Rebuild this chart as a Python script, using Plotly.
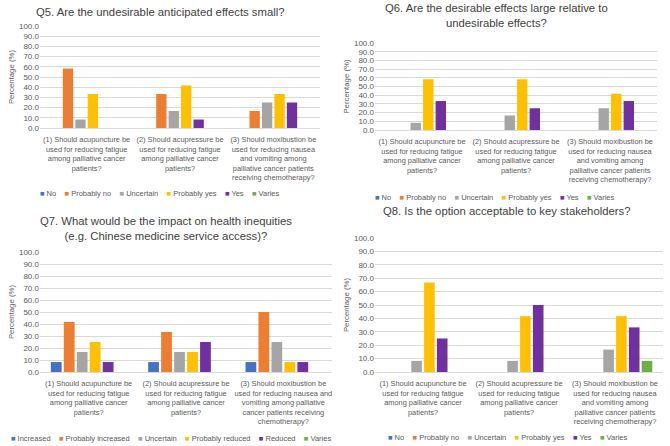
import plotly.graph_objects as go

# ---------------- data ----------------
cats = [
    "(1) Should acupuncture be<br>used for reducing fatigue<br>among palliative cancer<br>patients?",
    "(2) Should acupressure be<br>used for reducing fatigue<br>among palliative cancer<br>patients?",
    "(3) Should moxibustion be<br>used for reducing nausea<br>and vomiting among<br>palliative cancer patients<br>receiving chemotherapy?",
]
cats_q7 = [
    cats[0],
    cats[1],
    "(3) Should moxibustion be<br>used for reducing nausea and<br>vomiting among palliative<br>cancer patients receiving<br>chemotherapy?",
]

series_yes_no = ["No", "Probably no", "Uncertain", "Probably yes", "Yes", "Varies"]
series_q7 = ["Increased", "Probably increased", "Uncertain", "Probably reduced", "Reduced", "Varies"]

# values per series, each list = [cat1, cat2, cat3]
q5_no = [0, 0, 0]
q5_probably_no = [58.3, 33.3, 16.7]
q5_uncertain = [8.3, 16.7, 25.0]
q5_probably_yes = [33.3, 41.7, 33.3]
q5_yes = [0, 8.3, 25.0]
q5_varies = [0, 0, 0]

q6_no = [0, 0, 0]
q6_probably_no = [0, 0, 0]
q6_uncertain = [8.3, 16.7, 25.0]
q6_probably_yes = [58.3, 58.3, 41.7]
q6_yes = [33.3, 25.0, 33.3]
q6_varies = [0, 0, 0]

q7_increased = [8.3, 8.3, 8.3]
q7_probably_increased = [41.7, 33.3, 50.0]
q7_uncertain = [16.7, 16.7, 25.0]
q7_probably_reduced = [25.0, 16.7, 8.3]
q7_reduced = [8.3, 25.0, 8.3]
q7_varies = [0, 0, 0]

q8_no = [0, 0, 0]
q8_probably_no = [0, 0, 0]
q8_uncertain = [8.3, 8.3, 16.7]
q8_probably_yes = [66.7, 41.7, 41.7]
q8_yes = [25.0, 50.0, 33.3]
q8_varies = [0, 0, 8.3]

titles = [
    "Q5. Are the undesirable anticipated effects small?",
    "Q6. Are the desirable effects large relative to<br>undesirable effects?",
    "Q7. What would be the impact on health inequities<br>(e.g. Chinese medicine service access)?",
    "Q8. Is the option acceptable to key stakeholders?",
]
y_title = "Percentage (%)"
y_ticks = [0, 10, 20, 30, 40, 50, 60, 70, 80, 90, 100]

colors = ["#4472C4", "#ED7D31", "#A5A5A5", "#FFC000", "#7030A0", "#70AD47"]

W, H = 670, 446
FONT = "Liberation Sans, Arial, sans-serif"
TXT = "#595959"

panels = [
    dict(vals=[q5_no, q5_probably_no, q5_uncertain, q5_probably_yes, q5_yes, q5_varies],
         names=series_yes_no, cats=cats, px=(40, 320), py=(26, 128),
         title_xy=(160, 12), legend_xy=(160, 194)),
    dict(vals=[q6_no, q6_probably_no, q6_uncertain, q6_probably_yes, q6_yes, q6_varies],
         names=series_yes_no, cats=cats, px=(375, 657), py=(43, 130),
         title_xy=(496, 16), legend_xy=(495, 197)),
    dict(vals=[q7_increased, q7_probably_increased, q7_uncertain, q7_probably_reduced, q7_reduced, q7_varies],
         names=series_q7, cats=cats_q7, px=(40, 332), py=(252, 372),
         title_xy=(166, 228), legend_xy=(171, 438)),
    dict(vals=[q8_no, q8_probably_no, q8_uncertain, q8_probably_yes, q8_yes, q8_varies],
         names=series_yes_no, cats=cats, px=(375, 663), py=(238, 372),
         title_xy=(506, 211), legend_xy=(508, 437)),
]

fig = go.Figure()
layout = dict(
    width=W, height=H, margin=dict(l=0, r=0, t=0, b=0, autoexpand=False),
    paper_bgcolor="white", plot_bgcolor="white",
    barmode="group", bargap=0.2, bargroupgap=0.17,
    font=dict(family=FONT, color=TXT, size=7),
    showlegend=False,
    annotations=[],
)

for i, p in enumerate(panels):
    k = i + 1
    xa = "x" if k == 1 else f"x{k}"
    ya = "y" if k == 1 else f"y{k}"
    for j, (name, v) in enumerate(zip(p["names"], p["vals"])):
        fig.add_trace(go.Bar(
            x=p["cats"], y=v, name=name, marker=dict(color=colors[j], line=dict(width=0)),
            xaxis=xa, yaxis=ya, hoverinfo="skip", showlegend=False,
        ))
    x0, x1 = p["px"]
    yt, yb = p["py"]
    layout["xaxis" if k == 1 else f"xaxis{k}"] = dict(
        domain=[x0 / W, x1 / W], anchor=ya, type="category",
        showline=True, linecolor="#D9D9D9", linewidth=1,
        ticks="", tickfont=dict(size=7.4, color=TXT), tickangle=0,
        ticklabelstandoff=4,
        showgrid=False, fixedrange=True, automargin=False,
    )
    layout["yaxis" if k == 1 else f"yaxis{k}"] = dict(
        domain=[1 - yb / H, 1 - yt / H], anchor=xa, range=[0, 100],
        tickvals=y_ticks, tickformat=".1f", tickfont=dict(size=8, color=TXT),
        showgrid=True, gridcolor="#D9D9D9", gridwidth=1, zeroline=False,
        showline=False, ticks="",
        title=dict(text=y_title, font=dict(size=7.8, color=TXT), standoff=3),
        fixedrange=True, automargin=False,
    )
    # legend drawn as one line of text with coloured squares
    gap = "&nbsp;&nbsp;&nbsp;&nbsp;"
    legend_text = gap.join(
        f"<span style='color:{colors[j]}'>■</span> {name}" for j, name in enumerate(p["names"])
    )
    lx, ly = p["legend_xy"]
    layout["annotations"].append(dict(
        text=legend_text, x=lx / W, y=1 - ly / H, xref="paper", yref="paper",
        xanchor="center", yanchor="middle", showarrow=False,
        font=dict(size=7.5, color=TXT, family=FONT),
    ))
    tx, ty = p["title_xy"]
    layout["annotations"].append(dict(
        text=titles[i], x=tx / W, y=1 - ty / H, xref="paper", yref="paper",
        xanchor="center", yanchor="middle", showarrow=False,
        font=dict(size=11.3, color="#404040", family=FONT),
    ))

fig.update_layout(**layout)
fig.write_html(
    "out.html",
    config={"displayModeBar": False, "staticPlot": True},
    post_script="document.body.style.margin='0';document.body.style.padding='0';",
)
